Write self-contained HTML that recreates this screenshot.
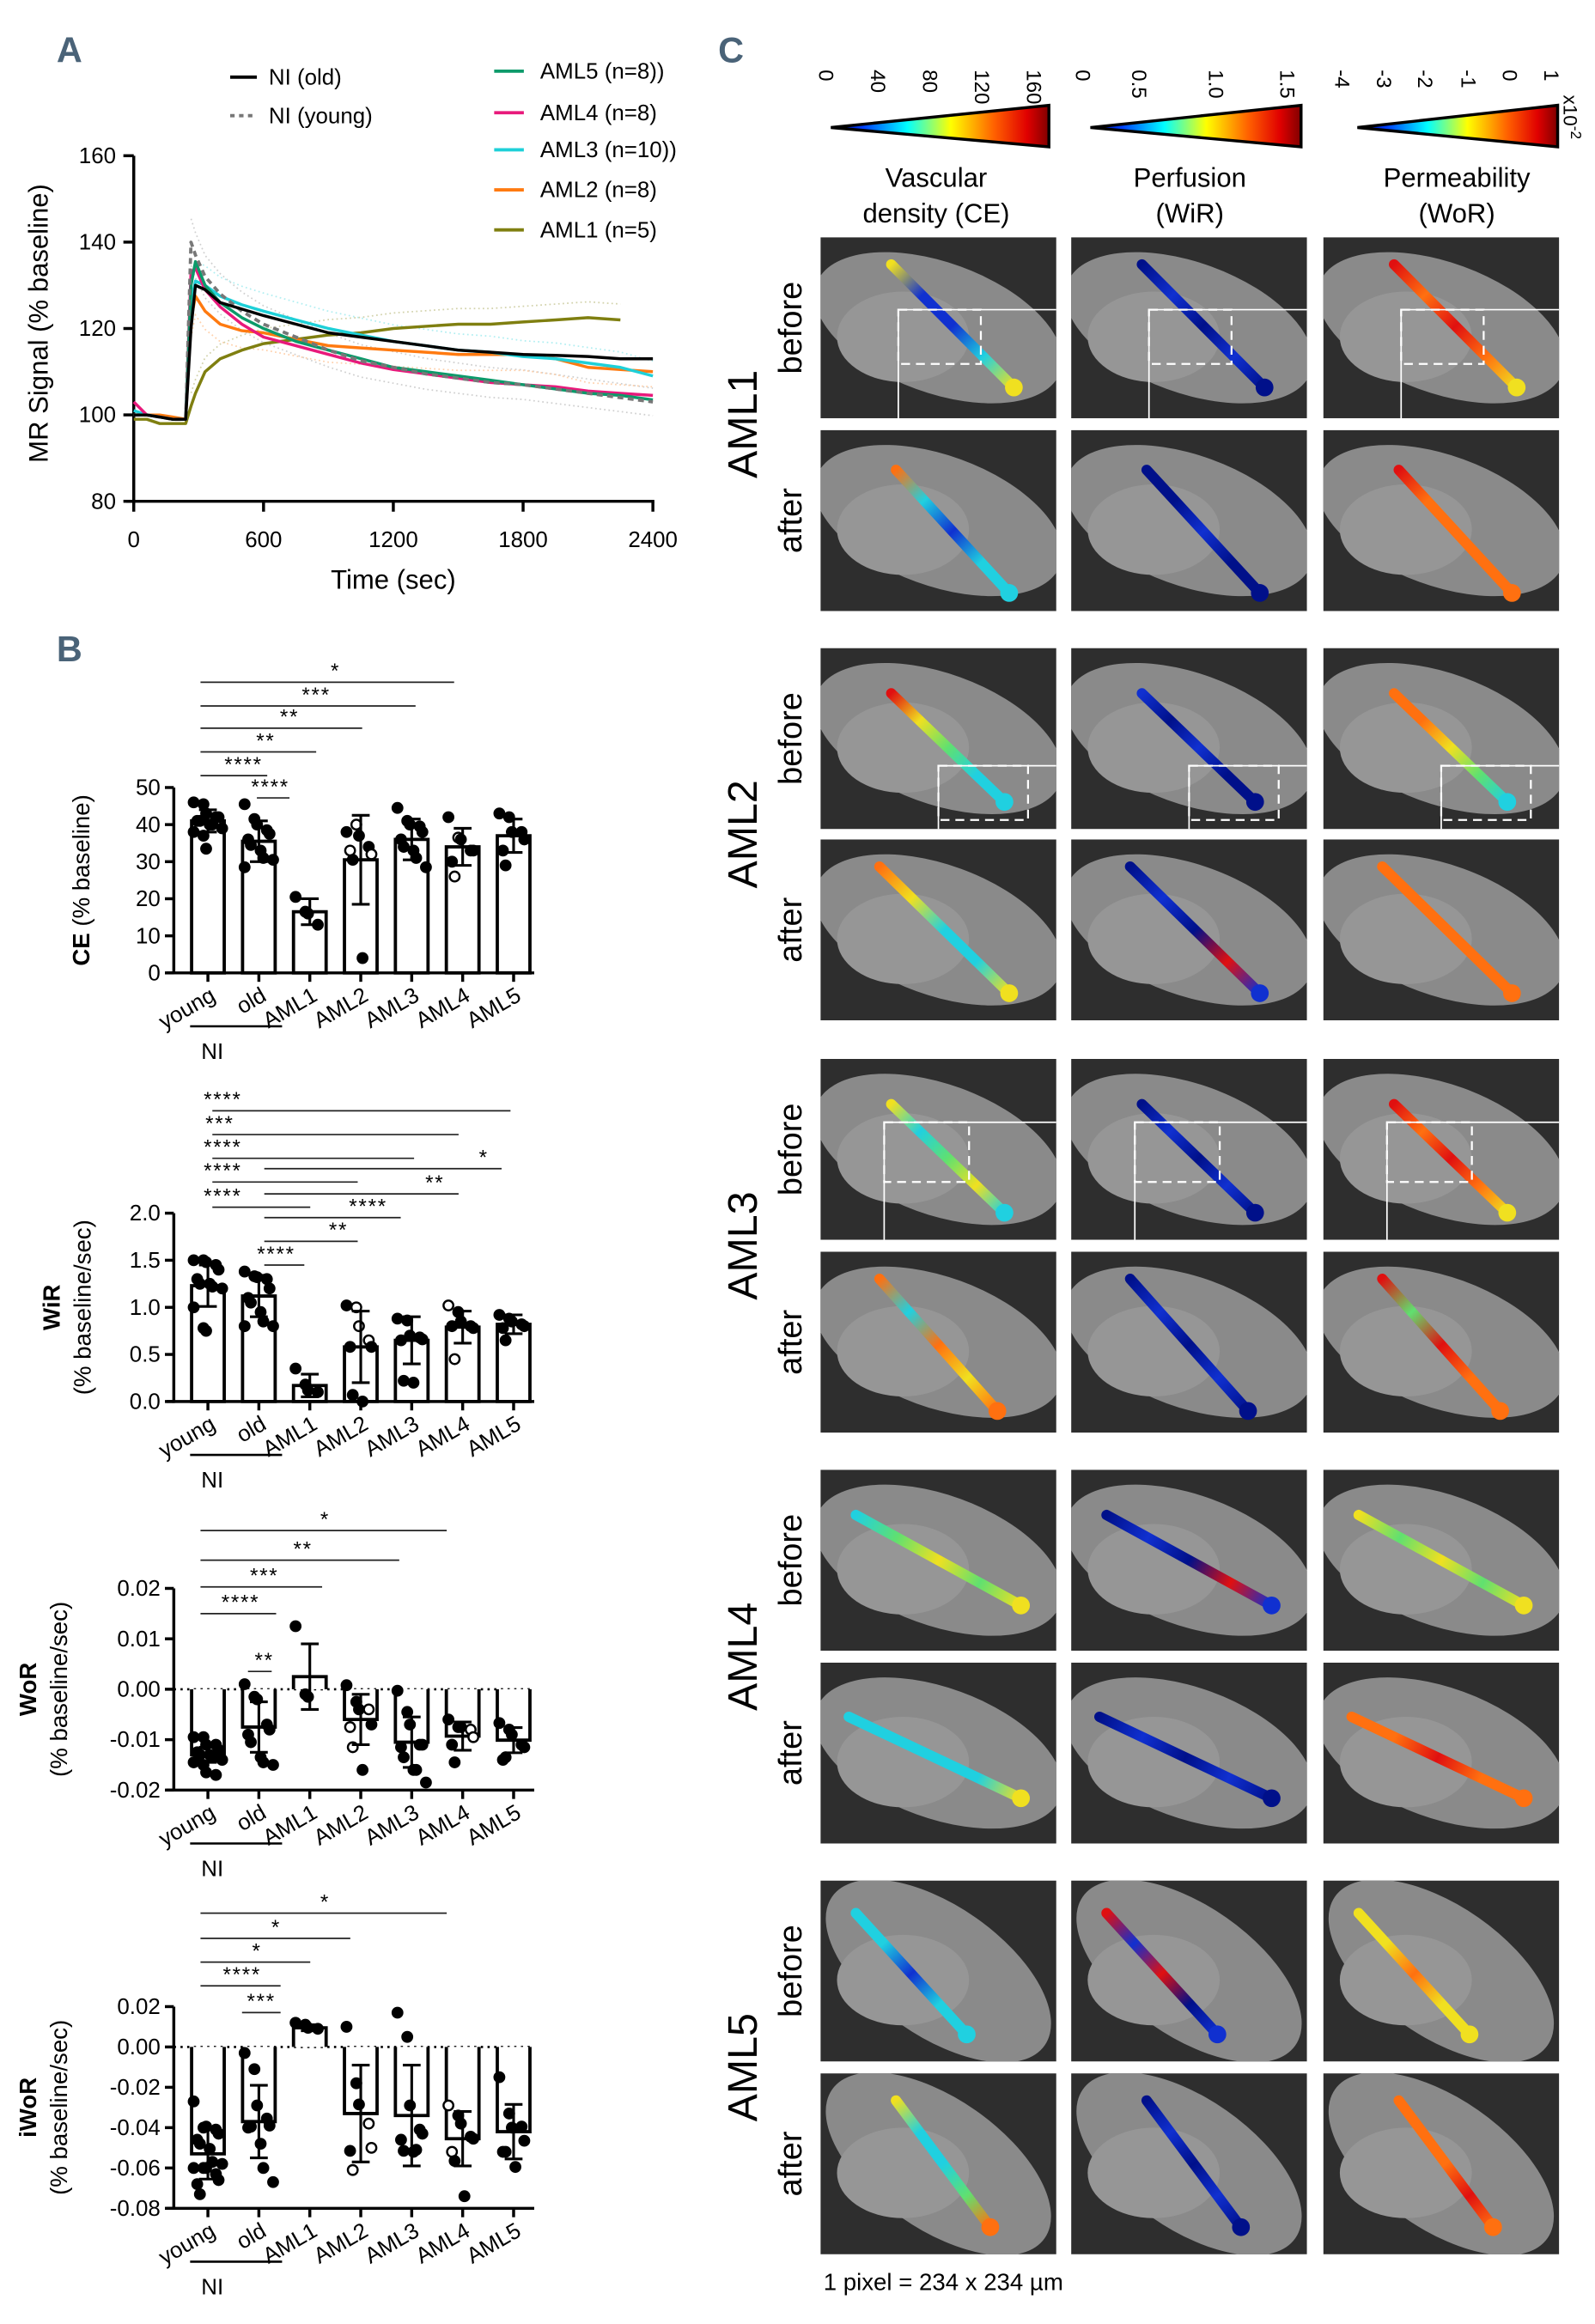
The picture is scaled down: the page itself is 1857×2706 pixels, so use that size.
<!DOCTYPE html>
<html><head><meta charset="utf-8"><style>
html,body{margin:0;padding:0;background:#fff}
svg{display:block;font-family:"Liberation Sans",Arial,sans-serif}
</style></head><body>
<svg id="fig" width="1857" height="2706" viewBox="0 0 1075 1567" xmlns="http://www.w3.org/2000/svg">
<defs>
<linearGradient id="jet" x1="0" y1="0" x2="1" y2="0">
<stop offset="0" stop-color="#00008f"/><stop offset="0.15" stop-color="#0040ff"/><stop offset="0.35" stop-color="#00ffff"/><stop offset="0.55" stop-color="#ffff00"/><stop offset="0.75" stop-color="#ff6000"/><stop offset="0.9" stop-color="#e00000"/><stop offset="1" stop-color="#800000"/>
</linearGradient>
</defs>
<g id="panelA"></g>
<g id="panelB"></g>
<g id="panelC"></g>
</svg>
<script>
// ===== Panel A data =====
const aSeriesNames = ["NI (old)","NI (young)","AML5 (n=8))","AML4 (n=8)","AML3 (n=10))","AML2 (n=8)","AML1 (n=5)"];
const aTimes = [0,60,120,180,240,265,285,330,400,500,600,750,900,1050,1200,1350,1500,1650,1800,1950,2100,2250,2400];
const aNIold   = [100,100,99.5,99,99,120,130,129,126,124.5,123,121,119,118,117,116,115,114.5,114,113.8,113.5,113,113];
const aNIyoung = [100,100,99.5,99,99,140,137,132,128,124,121,118,115,112.5,111,109.5,108.5,107.5,107,106,105,104,103];
const aAML5    = [100,100,99.5,99,99,130,135.5,130,126,122.5,120,117,115,113,111,110,109,108,107,106,105,104.5,103.5];
const aAML4    = [103,100,99.5,99,99,133,134,129,125,121,118,116,114,112,110.5,109.5,108.5,107.5,107,106.5,105.5,105,104.5];
const aAML3    = [101,100,99.5,99,99,126,131,130,127.5,125.5,124,122,120,118.5,117,116,115,114.5,113.5,113,112,111,109];
const aAML2    = [100,100,100,99.5,99,122,127.5,124,121,119.5,119,117.5,116,115.5,115,114.5,114,114,114,113,111,110.5,110];
const aAML1    = [99,99,98,98,98,102,105,110,113,115,116.5,117.5,118.5,119,120,120.5,121,121,121.5,122,122.5,122,null];
const aYTicks = [80,100,120,140,160];
const aXTicks = [0,600,1200,1800,2400];

// ===== Panel B data =====
const bCats = ["young","old","AML1","AML2","AML3","AML4","AML5"];
const ceMeans = [41,35.5,16.5,30.5,36,34,37];
const ceErr = [3,5.5,3.5,12,5.5,5,4.5];
const cePoints = [[46,45.5,43,42,42,41,41,40,40,39,38,37,33.5],[45.5,41.5,40,38.5,37.5,36,34.5,33,31,30.5,28.5],[20.5,16.5,16,13],[38,40,37,34,32,33,30.5,4],[44.5,41,40,39.5,38,36,34,33,31,28.5],[42,36.5,36,33,33,30,26],[43,42,38,38,36,33,29]];
const ceOpen = [[],[],[],[1,4,5],[],[1,6],[]];
const ceTicks = [0,10,20,30,40,50];

const wirMeans = [1.23,1.12,0.17,0.58,0.65,0.79,0.82];
const wirErr = [0.22,0.22,0.12,0.38,0.25,0.17,0.1];
const wirPoints = [[1.5,1.5,1.48,1.45,1.4,1.3,1.25,1.25,1.22,1.2,1.0,0.78,0.75],[1.38,1.33,1.32,1.3,1.2,1.1,1.05,0.95,0.85,0.8,0.8],[0.35,0.18,0.12,0.1],[1.02,1.0,0.8,0.65,0.58,0.58,0.07,0.0],[0.88,0.86,0.7,0.68,0.66,0.65,0.22,0.2],[1.02,0.95,0.85,0.8,0.78,0.8,0.45],[0.92,0.88,0.85,0.82,0.8,0.78,0.65]];
const wirOpen = [[],[],[],[1,2,3],[],[0,6],[]];
const wirTicks = [0,0.5,1.0,1.5,2.0];

const worMeans = [-0.013,-0.0075,0.0025,-0.006,-0.0105,-0.0093,-0.0101];
const worErr = [0.0015,0.005,0.0065,0.005,0.005,0.0028,0.0025];
const worPoints = [[-0.0095,-0.0095,-0.011,-0.011,-0.012,-0.0125,-0.013,-0.013,-0.0135,-0.014,-0.0145,-0.015,-0.0165,-0.017],[0.001,-0.0015,-0.002,-0.007,-0.008,-0.009,-0.0105,-0.0135,-0.0145,-0.015],[0.0125,-0.001,-0.0015],[0.0008,-0.0025,-0.004,-0.004,-0.007,-0.0075,-0.0115,-0.016],[-0.0003,-0.0045,-0.007,-0.011,-0.011,-0.0115,-0.0135,-0.016,-0.016,-0.0185],[-0.006,-0.0075,-0.0075,-0.008,-0.0095,-0.011,-0.0145],[-0.0067,-0.008,-0.009,-0.011,-0.0115,-0.014,-0.0135]];
const worOpen = [[],[],[],[3,5,6],[],[3,4],[]];
const worTicks = [-0.02,-0.01,0,0.01,0.02];

const iworMeans = [-0.053,-0.037,0.0095,-0.033,-0.034,-0.0455,-0.042];
const iworErr = [0.0125,0.018,0.0015,0.024,0.025,0.0135,0.0135];
const iworPoints = [[-0.027,-0.04,-0.0395,-0.041,-0.043,-0.046,-0.048,-0.0505,-0.057,-0.058,-0.06,-0.06,-0.06,-0.063,-0.066,-0.068,-0.073],[-0.003,-0.011,-0.029,-0.0355,-0.039,-0.04,-0.0395,-0.048,-0.06,-0.067],[0.012,0.011,0.0095,0.009],[0.01,-0.018,-0.0285,-0.038,-0.05,-0.0515,-0.061],[0.017,0.005,-0.029,-0.041,-0.043,-0.046,-0.0515,-0.052,-0.051],[-0.029,-0.034,-0.038,-0.0445,-0.0455,-0.052,-0.0565,-0.074],[-0.015,-0.033,-0.04,-0.0395,-0.0465,-0.052,-0.052,-0.0595]];
const iworOpen = [[],[],[],[3,4,6],[],[0,5],[]];
const iworTicks = [-0.08,-0.06,-0.04,-0.02,0,0.02];

const NS="http://www.w3.org/2000/svg";
function mk(tag, attrs, parent, text){
  const e=document.createElementNS(NS,tag);
  for(const k in attrs) e.setAttribute(k,attrs[k]);
  if(text!==undefined) e.textContent=text;
  parent.appendChild(e); return e;
}

// ===== Panel A =====
(function(){
  const g=document.getElementById('panelA');
  const x0=90,x1=440,yB=338,yT=105;
  const X=t=>x0+(t/2400)*(x1-x0);
  const Y=v=>yB-(v-80)/80*(yB-yT);
  let t=mk('text',{x:38,y:42,'font-size':24,'font-weight':'bold',fill:'#4a6378'},g,'A');
   
  const env=mk('g',{opacity:0.35},g);
   
  const colors=['#000','#777','#0b9a6a','#e8197b','#1ed0d8','#ff7a10','#7f7f10'];
  const series=[aNIold,aNIyoung,aAML5,aAML4,aAML3,aAML2,aAML1];
  [[aNIyoung,1.06],[aNIyoung,0.94],[aAML3,1.05],[aAML2,0.95],[aAML1,1.03]].forEach(([s,f],k)=>{
    const pts=[];aTimes.forEach((tt,i)=>{if(s[i]!=null&&tt>250)pts.push(X(tt)+','+Y(100+(s[i]-100)*f+(k%2?-3:3)));});
    const p=mk('polyline',{points:pts.join(' '),fill:'none',stroke:colors[[1,1,4,5,6][k]],'stroke-width':1,'stroke-dasharray':'1 2'},env);
     
  });
  const ax=mk('g',{stroke:'#000','stroke-width':2,fill:'none'},g);
   
  mk('line',{x1:x0,y1:yT,x2:x0,y2:yB+1},ax);
  mk('line',{x1:x0-5,y1:yB,x2:x1+1,y2:yB},ax);
  aYTicks.forEach(v=>{
    mk('line',{x1:x0-7,y1:Y(v),x2:x0,y2:Y(v)},ax);
    const tx=mk('text',{x:x0-12,y:Y(v)+5,'font-size':15,'text-anchor':'end'},g,String(v));
     
  });
  aXTicks.forEach(v=>{
    mk('line',{x1:X(v),y1:yB,x2:X(v),y2:yB+7},ax);
    const tx=mk('text',{x:X(v),y:yB+31,'font-size':15,'text-anchor':'middle'},g,String(v));
     
  });
  let xt=mk('text',{x:265,y:397,'font-size':18,'text-anchor':'middle'},g,'Time (sec)');
   
  let yt=mk('text',{x:0,y:0,'font-size':18,'text-anchor':'middle',transform:'translate(32,218) rotate(-90)'},g,'MR Signal (% baseline)');
   
  const order=[6,5,4,3,2,1,0];
  order.forEach(si=>{
    const s=series[si];const pts=[];
    aTimes.forEach((tt,i)=>{if(s[i]!=null)pts.push(X(tt).toFixed(1)+','+Y(s[i]).toFixed(1));});
    const p=mk('polyline',{points:pts.join(' '),fill:'none',stroke:colors[si],'stroke-width':2,'stroke-linejoin':'round'},g);
    if(si===1){p.setAttribute('stroke-dasharray','4 3');p.setAttribute('stroke-width',2.2);}
     
  });
  const legPos=[[155,52],[155,78],[333,48],[333,76],[333,101],[333,128],[333,155]];
  series.forEach((s,i)=>{
    const [lx,ly]=legPos[i];
    const lg=mk('g',{},g);
     
    const ln=mk('line',{x1:lx,y1:ly,x2:lx+(i<2?18:20),y2:ly,stroke:colors[i],'stroke-width':2.2},lg);
    if(i===1) ln.setAttribute('stroke-dasharray','3 3');
    mk('text',{x:lx+(i<2?26:31),y:ly+5,'font-size':15},lg,aSeriesNames[i]);
  });
})();

// ===== Panel B bar charts =====
function barChart(cfg){
  const g=mk('g',{},document.getElementById('panelB'));
   
  const {axX,yTop,yBot,vmin,vmax}=cfg;
  const Y=v=>yBot-(v-vmin)/(vmax-vmin)*(yBot-yTop);
  const cx=i=>140+i*34.35;
  const base=Math.max(vmin,Math.min(0,vmax));
  const xEnd=360;
  const ax=mk('g',{stroke:'#000','stroke-width':2,fill:'none'},g);
   
  mk('line',{x1:axX,y1:yTop,x2:axX,y2:yBot+1},ax);
  mk('line',{x1:axX-5,y1:yBot,x2:xEnd,y2:yBot},ax);
  cfg.ticks.forEach(v=>{
    mk('line',{x1:axX-6,y1:Y(v),x2:axX,y2:Y(v)},ax);
    const tx=mk('text',{x:axX-9,y:Y(v)+5,'font-size':15,'text-anchor':'end'},g,cfg.fmt(v));
     
  });
  if(vmin<0){
    const z=mk('line',{x1:axX,y1:Y(0),x2:xEnd,y2:Y(0),stroke:'#000','stroke-width':1.5,'stroke-dasharray':'1.5 3'},g);
     
  }
  bCats.forEach((c,i)=>{
    const x=cx(i);
    mk('line',{x1:x,y1:yBot,x2:x,y2:yBot+6,stroke:'#000','stroke-width':2},ax);
    const y0=Y(base),y1=Y(cfg.means[i]);
    const b=mk('path',{d:`M${x-11},${y0} L${x-11},${y1} L${x+11},${y1} L${x+11},${y0}`,fill:'#fff',stroke:'#000','stroke-width':2.2},g);
    if(vmin>=0) b.setAttribute('d',`M${x-11},${y0} L${x-11},${y1} L${x+11},${y1} L${x+11},${y0} Z`);
     
    cfg.points[i].forEach((v,k)=>{
      const off=((k%5)-2)*4.2+(k%2?1:-1)*1.2;
      const open=cfg.open[i].includes(k);
      const p=mk('circle',{cx:x+off,cy:Y(v),r:3.3,fill:open?'#fff':'#000',stroke:'#000','stroke-width':1.4},g);
       
    });
    const m=cfg.means[i],e=cfg.err[i];
    const eb=mk('path',{d:`M${x},${Y(m-e)} L${x},${Y(m+e)} M${x-6},${Y(m+e)} L${x+6},${Y(m+e)} M${x-6},${Y(m-e)} L${x+6},${Y(m-e)}`,stroke:'#000','stroke-width':1.8,fill:'none'},g);
     
    const lb=mk('text',{x:0,y:0,'font-size':15,'text-anchor':'end',transform:`translate(${x+6},${yBot+18}) rotate(-30)`},g,c);
     
  });
  const nl=mk('line',{x1:128,y1:yBot+36,x2:190,y2:yBot+36,stroke:'#000','stroke-width':1.5},g);
   
  const nt=mk('text',{x:143,y:yBot+58,'font-size':15,'text-anchor':'middle'},g,'NI');
   
  cfg.sig.forEach(s=>{
    const [xa,xb,y,lab,lx]=s;
    const sg=mk('g',{},g);
     
    mk('line',{x1:xa,y1:y,x2:xb,y2:y,stroke:'#222','stroke-width':1},sg);
    mk('text',{x:lx,y:y-3,'font-size':14,'text-anchor':'middle','letter-spacing':1},sg,lab);
  });
  const yt=mk('text',{x:0,y:0,'font-size':16,'text-anchor':'middle',transform:`translate(${cfg.tX1},${(yTop+yBot)/2}) rotate(-90)`},g);
   
  if(cfg.title2){
    mk('tspan',{'font-weight':'bold'},yt,cfg.title);
    const y2=mk('text',{x:0,y:0,'font-size':16,'text-anchor':'middle',transform:`translate(${cfg.tX2},${(yTop+yBot)/2}) rotate(-90)`},g,cfg.title2);
     
  } else {
    mk('tspan',{'font-weight':'bold'},yt,cfg.title);
    mk('tspan',{},yt,' (% baseline)');
  }
}
(function(){
  const g=document.getElementById('panelB');
  const t=mk('text',{x:38,y:446,'font-size':24,'font-weight':'bold',fill:'#4a6378'},g,'B');
   
})();
barChart({name:'ce-chart',axX:117,yTop:531,yBot:656,vmin:0,vmax:50,means:ceMeans,err:ceErr,points:cePoints,open:ceOpen,ticks:ceTicks,fmt:v=>String(v),title:'CE',tX1:60,
  sig:[[135,306,460,'*',226],[135,280,476,'***',213],[135,244,491,'**',195],[135,213,507,'**',179],[135,180,523,'****',164],[173,195,538,'****',182]]});
barChart({name:'wir-chart',axX:117,yTop:818,yBot:945,vmin:0,vmax:2,means:wirMeans,err:wirErr,points:wirPoints,open:wirOpen,ticks:wirTicks,fmt:v=>v.toFixed(1),title:'WiR',title2:'(% baseline/sec)',tX1:40,tX2:61,
  sig:[[143,344,749,'****',150],[143,309,765,'***',148],[143,279,781,'****',150],[178,338,788,'*',326],[143,241,797,'****',150],[178,309,805,'**',293],[143,209,814,'****',150],[178,270,821,'****',248],[178,241,837,'**',228],[178,205,853,'****',186]]});
barChart({name:'wor-chart',axX:117,yTop:1071,yBot:1207,vmin:-0.02,vmax:0.02,means:worMeans,err:worErr,points:worPoints,open:worOpen,ticks:worTicks,fmt:v=>v.toFixed(2),title:'WoR',title2:'(% baseline/sec)',tX1:24,tX2:45,
  sig:[[135,301,1032,'*',219],[135,269,1052,'**',204],[135,217,1070,'***',178],[135,186,1088,'****',162],[167,183,1127,'**',178]]});
barChart({name:'iwor-chart',axX:117,yTop:1353,yBot:1489,vmin:-0.08,vmax:0.02,means:iworMeans,err:iworErr,points:iworPoints,open:iworOpen,ticks:iworTicks,fmt:v=>v.toFixed(2),title:'iWoR',title2:'(% baseline/sec)',tX1:24,tX2:45,
  sig:[[135,301,1290,'*',219],[135,236,1307,'*',186],[135,209,1323,'*',173],[135,189,1339,'****',163],[163,189,1357,'***',176]]});

// ===== Panel C =====
(function(){
  const g=document.getElementById('panelC');
  const t=mk('text',{x:484,y:42,'font-size':24,'font-weight':'bold',fill:'#4a6378'},g,'C');
   
  const bars=[
    {x0:560,x1:707,labels:[['0',557],['40',592],['80',627],['120',662],['160',697]],title:['Vascular','density (CE)'],tc:631},
    {x0:735,x1:877,labels:[['0',730],['0.5',768],['1.0',820],['1.5',868]],title:['Perfusion','(WiR)'],tc:802},
    {x0:915,x1:1050,labels:[['-4',905],['-3',933],['-2',961],['-1',990],['0',1018],['1',1046]],title:['Permeability','(WoR)'],tc:982}
  ];
  bars.forEach((b,i)=>{
    const cg=mk('g',{},g);
     
    mk('polygon',{points:`${b.x0},${86} ${b.x1},${71} ${b.x1},${99}`,fill:'url(#jet)',stroke:'#000','stroke-width':2},cg);
    b.labels.forEach(([l,x])=>{
      mk('text',{x:0,y:0,'font-size':14,'text-anchor':'start',transform:`translate(${x-5},${47}) rotate(90)`},cg,l);
    });
    const tt=mk('text',{x:b.tc,y:126,'font-size':18,'text-anchor':'middle'},cg,b.title[0]);
     
    mk('text',{x:b.tc,y:150,'font-size':18,'text-anchor':'middle'},cg,b.title[1]);
  });
  const ex=mk('text',{x:0,y:0,'font-size':13,transform:'translate(1054,64) rotate(90)'},g,'x10');
  mk('tspan',{dy:-5,'font-size':10},ex,'-2');
   

  const colX=[553,722,892], cw=159, ch=122;
  const rowY=[[160,290],[437,566],[714,844],[991,1121],[1268,1398]];
  const groups=['AML1','AML2','AML3','AML4','AML5'];
  const bone=[[[0.3,0.15,0.82,0.83],[0.32,0.22,0.8,0.9]],[[0.3,0.25,0.78,0.85],[0.25,0.15,0.8,0.85]],[[0.3,0.25,0.78,0.85],[0.25,0.15,0.75,0.88]],[[0.15,0.25,0.85,0.75],[0.12,0.3,0.85,0.75]],[[0.15,0.18,0.62,0.85],[0.32,0.15,0.72,0.85]]];
  const J={b:'#1030d0',n:'#00108a',c:'#20d0e0',g:'#60e070',y:'#f0e020',o:'#ff7010',r:'#e01010'};
  const cols=[
   [[['y','b','b','c','y'],['n','b','n','b','n'],['r','o','r','o','y']],[['o','c','b','c','c'],['n','n','b','n','n'],['r','o','o','o','o']]],
   [[['r','y','g','c','c'],['b','n','b','n','n'],['o','o','y','g','c']],[['o','y','c','c','y'],['n','b','n','r','b'],['o','o','o','o','o']]],
   [[['y','c','g','y','c'],['n','b','n','b','n'],['r','o','r','o','y']],[['o','c','o','y','o'],['n','b','n','b','n'],['r','g','r','o','o']]],
   [[['c','g','y','g','y'],['n','b','n','r','b'],['y','g','y','g','y']],[['c','c','c','c','y'],['n','b','n','b','n'],['o','o','r','o','o']]],
   [[['c','c','b','c','c'],['r','b','r','n','b'],['y','y','o','y','y']],[['y','c','c','g','o'],['n','b','n','b','n'],['o','o','o','r','o']]]
  ];
  let gid=0;
  groups.forEach((gname,r)=>{
    const gl=mk('text',{x:0,y:0,'font-size':28,'text-anchor':'middle',transform:`translate(510,${(rowY[r][0]+rowY[r][1]+ch)/2}) rotate(-90)`},g,gname);
     
    ['before','after'].forEach((st,s)=>{
      const y=rowY[r][s];
      const sl=mk('text',{x:0,y:0,'font-size':22,'text-anchor':'middle',transform:`translate(540,${y+ch/2}) rotate(-90)`},g,st);
       
      colX.forEach((x,c)=>{
        const cell=mk('svg',{x:x,y:y,width:cw,height:ch,viewBox:`0 0 ${cw} ${ch}`},g);
         
        mk('rect',{x:0,y:0,width:cw,height:ch,fill:'#2e2e2e'},cell);
        mk('ellipse',{cx:cw*0.5,cy:ch*0.5,rx:cw*0.55,ry:ch*0.36,fill:'#8a8a8a',transform:`rotate(${r===4?35:20} ${cw*0.5} ${ch*0.5})`},cell);
        mk('ellipse',{cx:cw*0.35,cy:ch*0.55,rx:cw*0.28,ry:ch*0.25,fill:'#969696'},cell);
        const [ax,ay,bx,by]=bone[r][s];
        const id='bg'+(gid++);
        const lg=mk('linearGradient',{id:id,gradientUnits:'userSpaceOnUse',x1:ax*cw,y1:ay*ch,x2:bx*cw,y2:by*ch},cell);
        cols[r][s][c].forEach((k,i)=>mk('stop',{offset:i/4,'stop-color':J[k]},lg));
        mk('line',{x1:ax*cw,y1:ay*ch,x2:bx*cw,y2:by*ch,stroke:`url(#${id})`,'stroke-width':7,'stroke-linecap':'round'},cell);
        mk('circle',{cx:bx*cw,cy:by*ch,r:6,fill:J[cols[r][s][c][4]]},cell);
        if(s===0 && r<3){
          const bx0=[[0.33,0.4,0.68,0.7],[0.5,0.65,0.88,0.95],[0.27,0.35,0.63,0.68]][r];
          mk('rect',{x:bx0[0]*cw,y:bx0[1]*ch,width:(bx0[2]-bx0[0])*cw,height:(bx0[3]-bx0[1])*ch,fill:'none',stroke:'#fff','stroke-width':1.3,'stroke-dasharray':'6 4'},cell);
          mk('line',{x1:bx0[0]*cw,y1:bx0[1]*ch,x2:cw,y2:bx0[1]*ch,stroke:'#fff','stroke-width':1},cell);
          mk('line',{x1:bx0[0]*cw,y1:bx0[1]*ch,x2:bx0[0]*cw,y2:ch,stroke:'#fff','stroke-width':1},cell);
        }
      });
    });
  });
  const ft=mk('text',{x:555,y:1544,'font-size':16},g,'1 pixel = 234 x 234 µm');
   
})();
</script>
</body></html>
